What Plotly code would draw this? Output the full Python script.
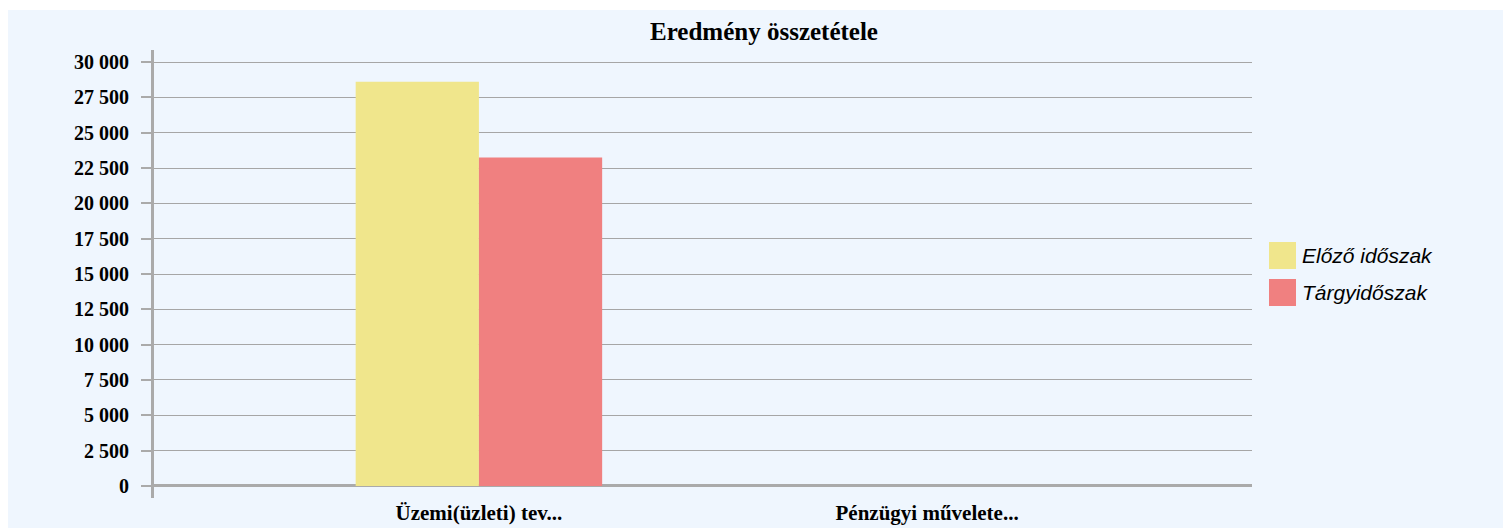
import plotly.graph_objects as go

# ---- data ----
categories = ["Üzemi(üzleti) tev...", "Pénzügyi művelete..."]
series_names = ["Előző időszak", "Tárgyidőszak"]
elozo = [28600, 0]
targy = [23250, 0]
series_values = [elozo, targy]
series_colors = ["#F0E68C", "#F08080"]
y_tickvals = list(range(0, 30001, 2500))
title_text = "Eredmény összetétele"

# ---- layout geometry (pixels within figure; figure origin sits at page (8, 8)) ----
OX, OY = 8, 8
W, H = 1503, 520
ML, MR, MT, MB = 146, 259, 42, 30
PW = W - ML - MR
PH = H - MT - MB
BG = "#EFF6FE"


def px_to_paper_x(px):
    return (px - OX - ML) / PW


def px_to_paper_y(py):
    return (OY + H - MB - py) / PH


fig = go.Figure()
for name, vals, col in zip(series_names, series_values, series_colors):
    fig.add_trace(go.Bar(
        x=categories, y=vals, name=name,
        marker=dict(color=col, line=dict(width=0)),
        showlegend=False,
    ))

serif = "Liberation Serif, Times New Roman, serif"
sans = "Liberation Sans, Arial, sans-serif"

fig.update_layout(
    width=W, height=H,
    margin=dict(l=ML, r=MR, t=MT, b=MB, autoexpand=False),
    paper_bgcolor="white",
    plot_bgcolor=BG,
    separators=". ",
    barmode="group",
    bargap=0.45,
    bargroupgap=0,
    title=dict(text="<b>" + title_text + "</b>", x=(764 - OX) / W, xref="container",
               xanchor="center", y=1 - (31 - OY) / H, yref="container", yanchor="middle",
               font=dict(family=serif, size=25, color="#000")),
    xaxis=dict(
        type="category",
        range=[-0.725, 1.725],
        showgrid=False, showline=False, zeroline=False,
        ticks="", tickfont=dict(family=serif, size=21, color="#000", weight="bold"),
        automargin=False,
    ),
    yaxis=dict(
        range=[-850, 30850],
        tickvals=y_tickvals, tickformat=",d",
        showgrid=True, gridcolor="#A6A6A6", gridwidth=1,
        showline=True, linecolor="#AAAAAA", linewidth=3,
        zeroline=True, zerolinecolor="#AAAAAA", zerolinewidth=3,
        ticks="outside", ticklen=10, tickwidth=1.5, tickcolor="#AAAAAA",
        ticklabelstandoff=8,
        tickfont=dict(family=serif, size=20, color="#000", weight="bold"),
        automargin=False,
    ),
)

# blue background panel (leaves a thin white strip at the very top)
fig.add_shape(type="rect", xref="paper", yref="paper", layer="below",
              x0=px_to_paper_x(0), x1=px_to_paper_x(OX + W + 10),
              y0=px_to_paper_y(OY + H + 10), y1=px_to_paper_y(10),
              fillcolor=BG, line=dict(width=0))

# custom legend with large squares
leg_x0 = 1269
leg_rows = [242, 279]
for name, col, top in zip(series_names, series_colors, leg_rows):
    fig.add_shape(type="rect", xref="paper", yref="paper",
                  x0=px_to_paper_x(leg_x0), x1=px_to_paper_x(leg_x0 + 27),
                  y0=px_to_paper_y(top + 27), y1=px_to_paper_y(top),
                  fillcolor=col, line=dict(width=0))
    fig.add_annotation(text=name, xref="paper", yref="paper",
                       x=px_to_paper_x(leg_x0 + 31), y=px_to_paper_y(top + 13.5),
                       xanchor="left", yanchor="middle", showarrow=False,
                       font=dict(family=sans, size=21, color="#000", style="italic"))

fig.write_html("out.html")
